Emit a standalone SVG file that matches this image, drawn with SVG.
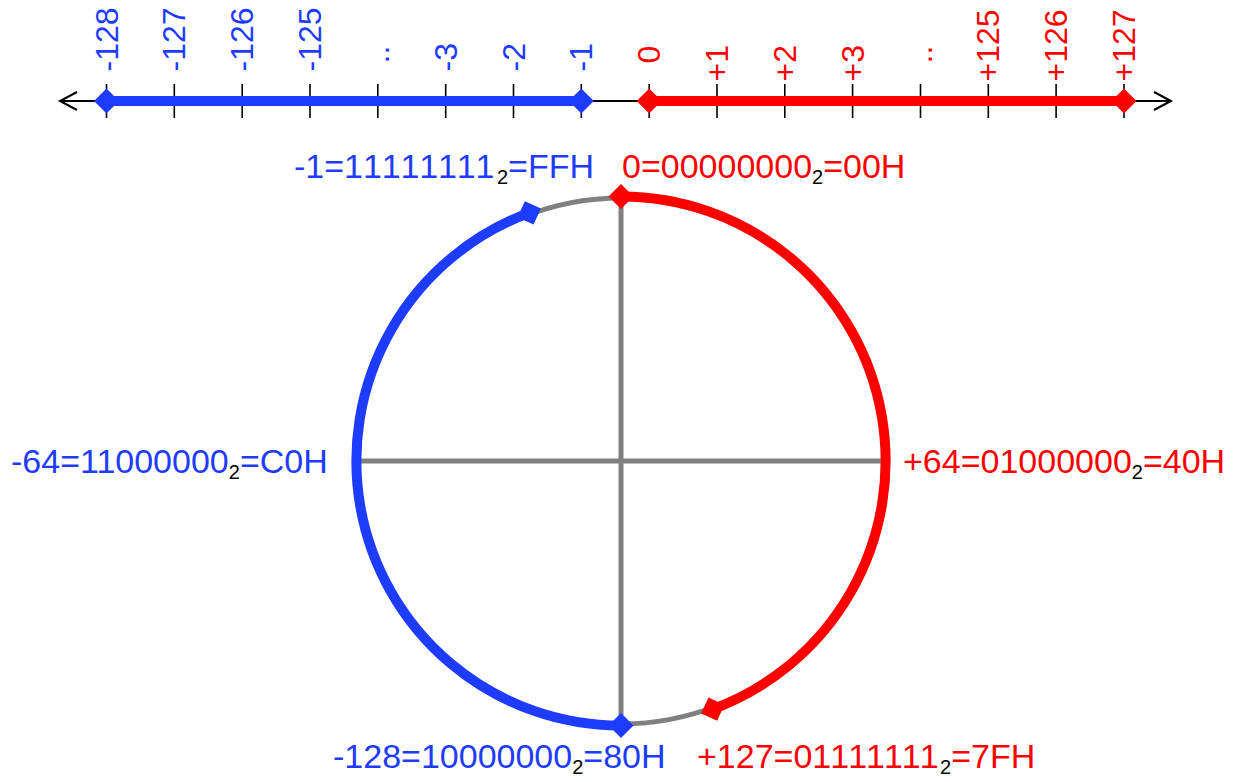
<svg xmlns="http://www.w3.org/2000/svg" width="1235" height="782" viewBox="0 0 1235 782">
<style>
.ax{stroke:#000;stroke-width:2;fill:none}
.tick{stroke:#000;stroke-width:1.6}
.nl{font-family:"Liberation Sans",Arial,sans-serif;font-size:32px}
.lab{font-family:"Liberation Sans",Arial,sans-serif;font-size:34px}
.sub{font-size:20px;fill:#000}
.blue{fill:#1E3CFF}
.red{fill:#FF0000}
.gray{stroke:#808080;stroke-width:5;fill:none}
.bl{stroke:#1E3CFF;stroke-width:10;fill:none;marker-start:url(#db);marker-end:url(#db)}
.rl{stroke:#FF0000;stroke-width:10;fill:none;marker-start:url(#dr);marker-end:url(#dr)}
</style>
<defs>
<marker id="db" markerUnits="userSpaceOnUse" viewBox="-13 -13 26 26" markerWidth="26" markerHeight="26" refX="0" refY="0" orient="auto"><path d="M-12.5,0 L0,-12.5 L12.5,0 L0,12.5 Z" fill="#1E3CFF"/></marker>
<marker id="dr" markerUnits="userSpaceOnUse" viewBox="-13 -13 26 26" markerWidth="26" markerHeight="26" refX="0" refY="0" orient="auto"><path d="M-12.5,0 L0,-12.5 L12.5,0 L0,12.5 Z" fill="#FF0000"/></marker>
</defs>
<rect width="1235" height="782" fill="#fff"/>
<g id="numberline">
<line class="ax" x1="60" y1="101" x2="1171" y2="101"/>
<path class="ax" d="M77,92 L60,101 L77,110"/>
<path class="ax" d="M1154,92 L1171,101 L1154,110"/>
<g id="ticks">
<line class="tick" x1="106.5" y1="84" x2="106.5" y2="118"/>
<line class="tick" x1="174.3" y1="84" x2="174.3" y2="118"/>
<line class="tick" x1="242.2" y1="84" x2="242.2" y2="118"/>
<line class="tick" x1="310" y1="84" x2="310" y2="118"/>
<line class="tick" x1="377.8" y1="84" x2="377.8" y2="118"/>
<line class="tick" x1="445.7" y1="84" x2="445.7" y2="118"/>
<line class="tick" x1="513.5" y1="84" x2="513.5" y2="118"/>
<line class="tick" x1="581.3" y1="84" x2="581.3" y2="118"/>
<line class="tick" x1="649.2" y1="84" x2="649.2" y2="118"/>
<line class="tick" x1="717" y1="84" x2="717" y2="118"/>
<line class="tick" x1="784.8" y1="84" x2="784.8" y2="118"/>
<line class="tick" x1="852.6" y1="84" x2="852.6" y2="118"/>
<line class="tick" x1="920.5" y1="84" x2="920.5" y2="118"/>
<line class="tick" x1="988.3" y1="84" x2="988.3" y2="118"/>
<line class="tick" x1="1056.1" y1="84" x2="1056.1" y2="118"/>
<line class="tick" x1="1124" y1="84" x2="1124" y2="118"/>
</g>
<line class="bl" x1="106.5" y1="101" x2="581.3" y2="101"/>
<line class="rl" x1="649.2" y1="101" x2="1124" y2="101"/>
<g id="nl-labels" class="nl">
<text class="blue" transform="translate(117.5,71.5) rotate(-90)">-128</text>
<text class="blue" transform="translate(185.3,71.5) rotate(-90)">-127</text>
<text class="blue" transform="translate(253.2,71.5) rotate(-90)">-126</text>
<text class="blue" transform="translate(321,71.5) rotate(-90)">-125</text>
<text class="blue" transform="translate(388.8,63.5) rotate(-90)">..</text>
<text class="blue" transform="translate(456.7,71.5) rotate(-90)">-3</text>
<text class="blue" transform="translate(524.5,71.5) rotate(-90)">-2</text>
<text class="blue" transform="translate(592.3,71.5) rotate(-90)">-1</text>
<text class="red" transform="translate(660.2,63.5) rotate(-90)">0</text>
<text class="red" transform="translate(728,81.5) rotate(-90)">+1</text>
<text class="red" transform="translate(795.8,81.5) rotate(-90)">+2</text>
<text class="red" transform="translate(863.6,81.5) rotate(-90)">+3</text>
<text class="red" transform="translate(931.5,63.5) rotate(-90)">..</text>
<text class="red" transform="translate(999.3,81.5) rotate(-90)">+125</text>
<text class="red" transform="translate(1067.1,81.5) rotate(-90)">+126</text>
<text class="red" transform="translate(1135,81.5) rotate(-90)">+127</text>
</g>
</g>
<g id="circle">
<circle class="gray" cx="621" cy="461" r="263"/>
<line class="gray" x1="357" y1="461" x2="885" y2="461"/>
<line class="gray" x1="621" y1="198" x2="621" y2="724"/>
</g>
<g id="connectors">
<path id="blue-arc" class="bl" d="M529.2,212.9 A264.5,264.5 0 0 0 621,725.5"/>
<path id="red-arc" class="rl" d="M621,196.5 A264.5,264.5 0 0 1 712.8,709.1"/>
</g>
<g id="labels" class="lab">
<text id="lab-m1" class="blue" x="294" y="178">-1=<tspan letter-spacing="2.4">11111111</tspan><tspan class="sub" dy="6">2</tspan><tspan dy="-6">=FFH</tspan></text>
<text id="lab-0" class="red" x="622" y="178">0=00000000<tspan class="sub" dy="6">2</tspan><tspan dy="-6">=00H</tspan></text>
<text id="lab-m64" class="blue" x="11" y="473">-64=11000000<tspan class="sub" dy="6">2</tspan><tspan dy="-6">=C0H</tspan></text>
<text id="lab-p64" class="red" x="903" y="473">+64=01000000<tspan class="sub" dy="6">2</tspan><tspan dy="-6">=40H</tspan></text>
<text id="lab-m128" class="blue" x="333" y="768">-128=10000000<tspan class="sub" dy="6">2</tspan><tspan dy="-6">=80H</tspan></text>
<text id="lab-p127" class="red" x="697" y="768">+127=0<tspan letter-spacing="1.5">1111111</tspan><tspan class="sub" dy="6">2</tspan><tspan dy="-6">=7FH</tspan></text>
</g>
</svg>
